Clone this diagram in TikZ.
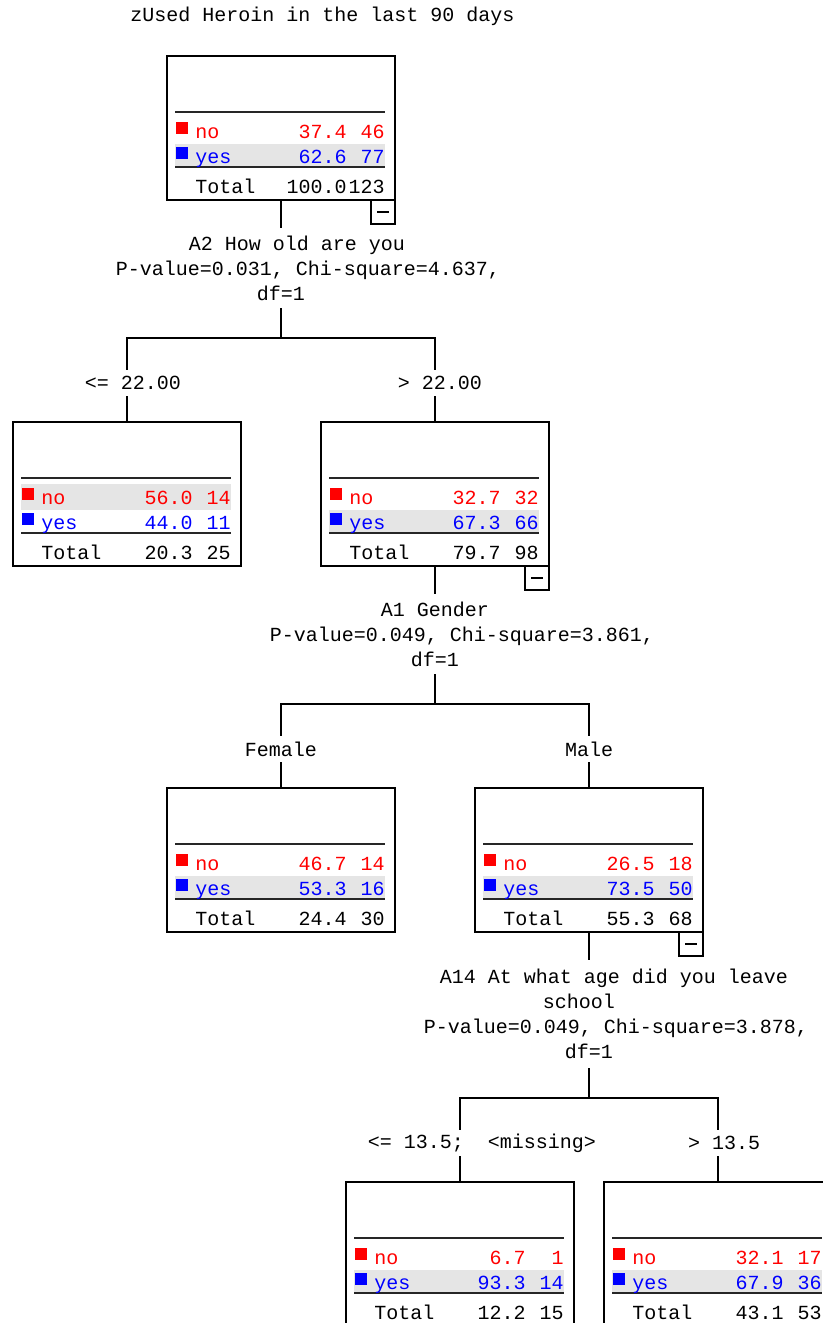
\documentclass[tikz,border=0pt]{standalone}
\usepackage{fontspec}
\setmainfont{Liberation Mono}
\usetikzlibrary{positioning,calc}
\pgfdeclarelayer{background}
\pgfsetlayers{background,main}
\tikzstyle{box} = [rectangle, draw, line width=1pt, minimum width=114pt, minimum height=72pt, inner sep=0pt, outer sep=0pt]
\tikzstyle{minus} = [rectangle, draw, line width=1pt, minimum size=12pt, inner sep=0pt, outer sep=0pt]
\tikzstyle{split} = [fill=white, align=center, inner sep=0pt, outer sep=0pt, minimum height=40pt]
\tikzstyle{cond} = [fill=white, inner sep=0pt, outer sep=0pt, minimum height=13pt]
\tikzstyle{line} = [draw, line width=1pt]
\tikzstyle{tablerule} = [draw=black!85, line width=1pt]
\tikzstyle{shaded} = [fill=black!10]
\tikzstyle{cell} = [inner sep=0pt]

% table inside a tree node: node, shaded row from/to, no, yes, total
\newcommand{\stats}[9]{%
  \fill [shaded] ($(#1.north west)+(8,#2)$) rectangle ($(#1.north west)+(218,#3)$);
  \path [tablerule] ($(#1.north west)+(8,56)$) -- ($(#1.north west)+(218,56)$);
  \path [tablerule] ($(#1.north west)+(8,111)$) -- ($(#1.north west)+(218,111)$);
  \fill [red] ($(#1.north west)+(8.5,66)$) rectangle ++(12,12);
  \fill [blue] ($(#1.north west)+(8.5,91)$) rectangle ++(12,12);
  \node [cell, anchor=base west, text=red] (#1-no) at ($(#1.north west)+(28,82)$) {no};
  \node [cell, anchor=base east, text=red] (#1-nop) at ($(#1.north west)+(180,82)$) {#4};
  \node [cell, anchor=base east, text=red] (#1-non) at ($(#1.north west)+(218,82)$) {#5};
  \node [cell, anchor=base west, text=blue] (#1-yes) at ($(#1.north west)+(28,107)$) {yes};
  \node [cell, anchor=base east, text=blue] (#1-yesp) at ($(#1.north west)+(180,107)$) {#6};
  \node [cell, anchor=base east, text=blue] (#1-yesn) at ($(#1.north west)+(218,107)$) {#7};
  \node [cell, anchor=base west] (#1-tot) at ($(#1.north west)+(28,137)$) {Total};
  \node [cell, anchor=base east] (#1-totp) at ($(#1.north west)+(180,137)$) {#8};
  \node [cell, anchor=base east] (#1-totn) at ($(#1.north west)+(218,137)$) {#9};
}

\begin{document}
\begin{tikzpicture}[x=0.5pt, y=-0.5pt, font=\fontsize{10pt}{12.5pt}\selectfont]
    \useasboundingbox (0,0) rectangle (823,1323);
    \clip (0,0) rectangle (823,1323);
    % Place nodes
    \node (title) at (322.5,16) {zUsed Heroin in the last 90 days};
    \node [box] (n0) at (281,128) {};
    \node [minus, anchor=north east] (m0) at (n0.south east) {\rule{6pt}{1pt}};
    \node [split, below=14pt of n0] (s0) {\hspace*{16pt}A2 How old are you\\\hspace*{27pt}P-value=0.031, Chi-square=4.637,\\df=1};
    \coordinate [below=15pt of s0] (j0);
    \node [box, below=42pt of j0, xshift=-77pt] (n1) {};
    \node [box, below=42pt of j0, xshift=77pt] (n2) {};
    \node [cond, above=13pt of n1, xshift=3pt] (c1) {<= 22.00};
    \node [cond, above=13pt of n2, xshift=2.5pt] (c2) {> 22.00};
    \node [minus, anchor=north east] (m2) at (n2.south east) {\rule{6pt}{1pt}};
    \node [split, below=14pt of n2] (s2) {A1 Gender\\\hspace*{27pt}P-value=0.049, Chi-square=3.861,\\df=1};
    \coordinate [below=15pt of s2] (j2);
    \node [box, below=42pt of j2, xshift=-77pt] (n3) {};
    \node [box, below=42pt of j2, xshift=77pt] (n4) {};
    \node [cond, above=13pt of n3] (c3) {Female};
    \node [cond, above=13pt of n4] (c4) {Male};
    \node [minus, anchor=north east] (m4) at (n4.south east) {\rule{6pt}{1pt}};
    \node [split, minimum height=54pt, below=14pt of n4] (s4) {\hspace*{25pt}A14 At what age did you leave\\school\hspace*{10pt}\mbox{}\\\hspace*{27pt}P-value=0.049, Chi-square=3.878,\\df=1};
    \coordinate [below=15pt of s4] (j4);
    \node [box, below=42pt of j4, xshift=-64.5pt] (n5) {};
    \node [box, below=42pt of j4, xshift=64.5pt] (n6) {};
    \node [cond, above=13pt of n5, xshift=11pt] (c5) {<= 13.5;\ \ <missing>};
    \node [cond, above=13pt of n6, xshift=3pt] (c6) {> 13.5};
    % Fill tables
    \stats{n0}{88}{110}{37.4}{46}{62.6}{77}{100.0}{123}
    \stats{n1}{62}{88}{56.0}{14}{44.0}{11}{20.3}{25}
    \stats{n2}{88}{110}{32.7}{32}{67.3}{66}{79.7}{98}
    \stats{n3}{88}{110}{46.7}{14}{53.3}{16}{24.4}{30}
    \stats{n4}{88}{110}{26.5}{18}{73.5}{50}{55.3}{68}
    \stats{n5}{88}{110}{6.7}{1}{93.3}{14}{12.2}{15}
    \stats{n6}{88}{110}{32.1}{17}{67.9}{36}{43.1}{53}
    % Draw edges
    \begin{pgfonlayer}{background}
    \path [line] (n0.south) -- (j0) -| (n1.north);
    \path [line] (j0) -| (n2.north);
    \path [line] (n2.south) -- (j2) -| (n3.north);
    \path [line] (j2) -| (n4.north);
    \path [line] (n4.south) -- (j4) -| (n5.north);
    \path [line] (j4) -| (n6.north);
    \end{pgfonlayer}
\end{tikzpicture}
\end{document}
